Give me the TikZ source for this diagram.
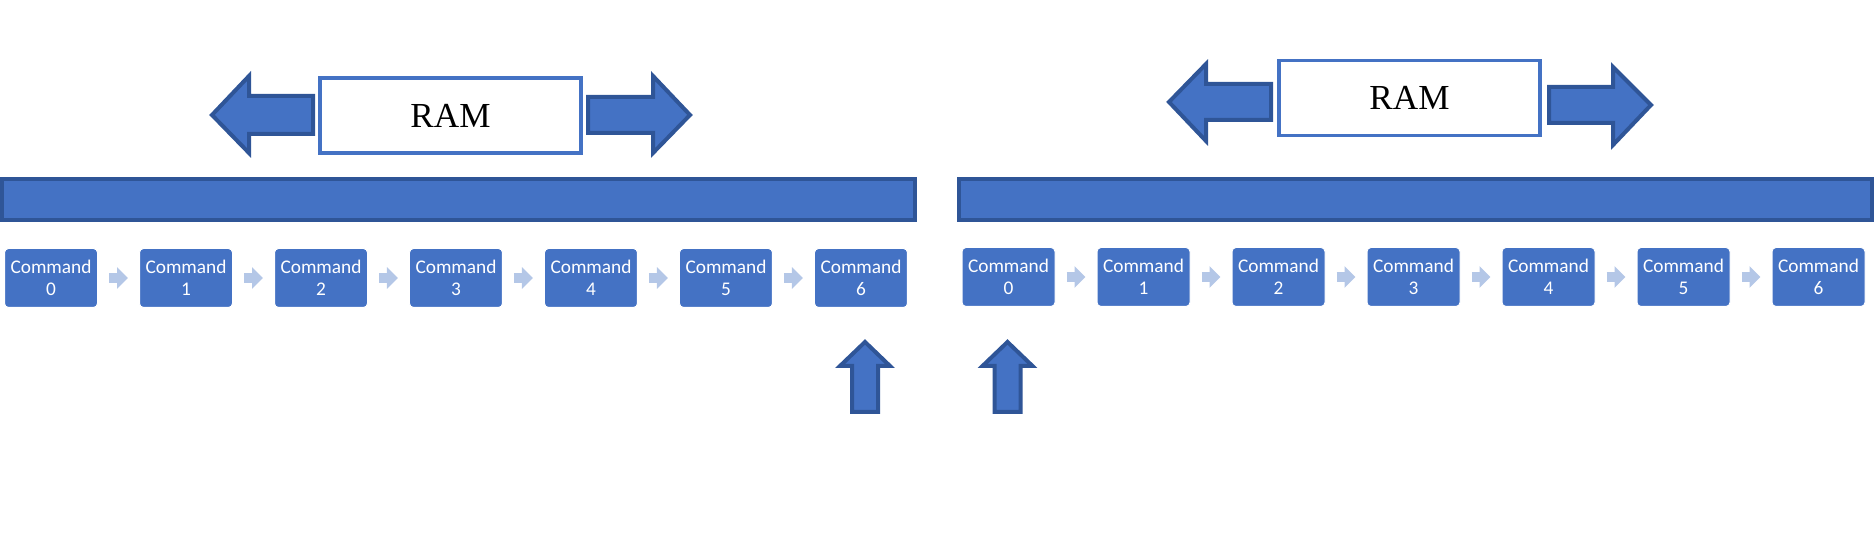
\documentclass[tikz,border=0pt]{standalone}
\usepackage{fontspec}
\setmainfont{Liberation Serif}
\newfontfamily\calfont{Carlito}
\usetikzlibrary{arrows.meta,positioning,calc}
\definecolor{accblue}{HTML}{4472C4}
\definecolor{darkblue}{HTML}{2F5597}
\definecolor{paleblue}{HTML}{B4C7E7}

\begin{document}
\begin{tikzpicture}[x=0.1mm, y=-0.1mm,
    cmd/.style={draw=white, line width=0.1mm, fill=accblue, rounded corners=0.4mm, minimum width=9.3mm, minimum height=5.9mm, inner sep=0pt, align=center, text=white, font=\calfont\fontsize{5.5}{6.2}\selectfont},
    ram/.style={draw=accblue, line width=0.35mm, fill=white, minimum width=26.1mm, minimum height=7.5mm, font=\fontsize{10}{11}\selectfont},
    bar/.style={draw=darkblue, line width=0.4mm, fill=accblue},
    bigarrow/.style={draw=darkblue, line width=0.4mm, fill=accblue, line join=miter},
    flow/.style={paleblue, line width=1mm, -{Triangle[width=2.1mm,length=1.1mm]}, shorten <=1.1mm, shorten >=1.1mm}
]
\useasboundingbox (0,0) rectangle (1874,555);

% RAM windows
\node[ram] (ramA) at (450.5,115.5) {RAM};
\node[ram] (ramB) at (1409.5,98) {RAM};

% Sliding arrows round the RAM windows
\draw[bigarrow] (212,115) -- (249,76) -- (249,96) -- (313,96) -- (313,134) -- (249,134) -- (249,153) -- cycle;
\draw[bigarrow] (690,115) -- (653,76) -- (653,97) -- (588,97) -- (588,133) -- (653,133) -- (653,153) -- cycle;
\draw[bigarrow] (1169,102) -- (1206,64) -- (1206,84) -- (1271,84) -- (1271,120) -- (1206,120) -- (1206,141) -- cycle;
\draw[bigarrow] (1651,105) -- (1613,67) -- (1613,87) -- (1549,87) -- (1549,123) -- (1613,123) -- (1613,145) -- cycle;

% Bars
\draw[bar] (2,179) rectangle (915,220);
\draw[bar] (959,179) rectangle (1872,220);

% Commands, left
\node[cmd] (c0) at (51,278) {Command\\0};
\node[cmd, right=4.1mm of c0] (c1) {Command\\1};
\node[cmd, right=4.1mm of c1] (c2) {Command\\2};
\node[cmd, right=4.1mm of c2] (c3) {Command\\3};
\node[cmd, right=4.1mm of c3] (c4) {Command\\4};
\node[cmd, right=4.1mm of c4] (c5) {Command\\5};
\node[cmd, right=4.1mm of c5] (c6) {Command\\6};

% Commands, right
\node[cmd] (d0) at (1008.5,277) {Command\\0};
\node[cmd, right=4.1mm of d0] (d1) {Command\\1};
\node[cmd, right=4.1mm of d1] (d2) {Command\\2};
\node[cmd, right=4.1mm of d2] (d3) {Command\\3};
\node[cmd, right=4.1mm of d3] (d4) {Command\\4};
\node[cmd, right=4.1mm of d4] (d5) {Command\\5};
\node[cmd, right=4.1mm of d5] (d6) {Command\\6};

\draw[flow] (c0) -- (c1);
\draw[flow] (c1) -- (c2);
\draw[flow] (c2) -- (c3);
\draw[flow] (c3) -- (c4);
\draw[flow] (c4) -- (c5);
\draw[flow] (c5) -- (c6);
\draw[flow] (d0) -- (d1);
\draw[flow] (d1) -- (d2);
\draw[flow] (d2) -- (d3);
\draw[flow] (d3) -- (d4);
\draw[flow] (d4) -- (d5);
\draw[flow] (d5) -- (d6);

% Pointers
\begin{scope}[shift={(865,0)}]
\draw[bigarrow] (0,342) -- (25,366) -- (13,366) -- (13,412) -- (-13,412) -- (-13,366) -- (-25,366) -- cycle;
\end{scope}
\begin{scope}[shift={(1007.5,0)}]
\draw[bigarrow] (0,342) -- (25,366) -- (13,366) -- (13,412) -- (-13,412) -- (-13,366) -- (-25,366) -- cycle;
\end{scope}

\end{tikzpicture}
\end{document}
